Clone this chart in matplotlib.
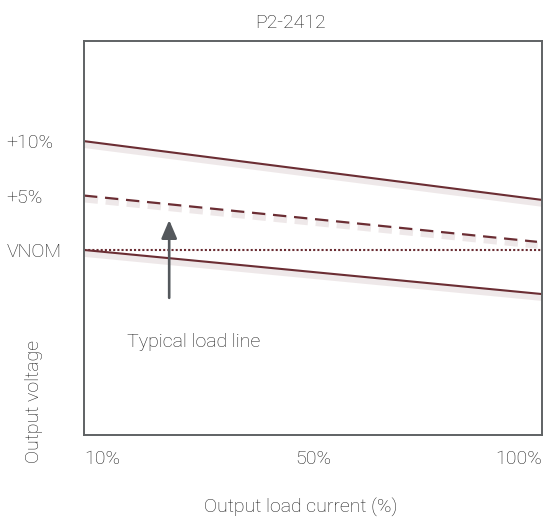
import matplotlib
matplotlib.use('Agg')
import matplotlib.pyplot as plt
import matplotlib.patheffects as pe

# schematic load axis (0 = 10% load, 1 = 100% load) and voltage deviation in %
load_pos = [0.0, 1.0]
upper_limit = [10.0, 4.6]
typical = [5.0, 0.75]
typical_pos = [0.0, 0.989]
lower_limit = [0.0, -4.05]
vnom = [0.0, 0.0]

x_ticks = [0.0, 0.5, 1.0]
x_tick_labels = ["10%", "50%", "100%"]
y_ticks = [0.0, 5.0, 10.0]
y_tick_labels = ["VNOM", "+5%", "+10%"]

arrow_x = 0.186
arrow_from = -4.4
arrow_to = 2.75

plt.rcParams['font.family'] = ['Roboto', 'DejaVu Sans']
LINE = "#6b2d33"
GREY = "#5f6264"
TXT = "#1e1e1e"
FS = 14

fig = plt.figure(figsize=(5.43, 5.27), dpi=100)
ax = fig.add_axes([84 / 543, 1 - 435 / 527, 458 / 543, 394 / 527])

shadow = [pe.SimpleLineShadow(offset=(0.5, -2.5), shadow_color="#b59a9c",
                              alpha=0.22, linewidth=5), pe.Normal()]

ax.plot(load_pos, upper_limit, color=LINE, lw=1.5, path_effects=shadow,
        solid_capstyle='butt')
ax.plot(typical_pos, typical, color=LINE, lw=1.6, ls=(0, (6, 3.5)),
        path_effects=shadow)
ax.plot(load_pos, vnom, color=LINE, lw=1.5, ls=(0, (1, 1)))
ax.plot(load_pos, lower_limit, color=LINE, lw=1.5, path_effects=shadow,
        solid_capstyle='butt')

ax.annotate("", xy=(arrow_x, arrow_to), xytext=(arrow_x, arrow_from),
            arrowprops=dict(arrowstyle="-|>,head_width=0.47,head_length=1.1",
                            color="#54585c", lw=1.9, mutation_scale=10,
                            shrinkA=0, shrinkB=0))
ax.text(0.094, -8.45, "Typical load line", fontsize=FS, color=TXT,
        fontweight='light', va='center', ha='left')

ax.set_xlim(0, 1)
ax.set_ylim(-17.0, 19.2)

ax.set_xticks(x_ticks)
ax.set_xticklabels(x_tick_labels, fontsize=FS, color=TXT, fontweight='light')
xl = ax.get_xticklabels()
xl[0].set_ha('left')
xl[-1].set_ha('right')
ax.tick_params(axis='x', length=0, pad=11)

ax.set_yticks(y_ticks)
ax.set_yticklabels(y_tick_labels, fontsize=FS, color=TXT, fontweight='light',
                   ha='left')
ax.tick_params(axis='y', length=0, pad=56)

for sp in ax.spines.values():
    sp.set_color(GREY)
    sp.set_linewidth(1.4)

ax.set_xlabel("Output load current (%)", fontsize=FS, color=TXT,
              fontweight='light')
ax.xaxis.set_label_coords(0.474, -0.16)
ax.set_ylabel("Output voltage", fontsize=FS, color=TXT, fontweight='light')
ax.yaxis.set_label_coords(-0.09, 0.086)
ax.yaxis.label.set_va('bottom')

ax.set_title("P2-2412", fontsize=FS, color=TXT, fontweight='light',
             x=0.45, pad=9)

fig.savefig("out.png", dpi=100, facecolor="white")
